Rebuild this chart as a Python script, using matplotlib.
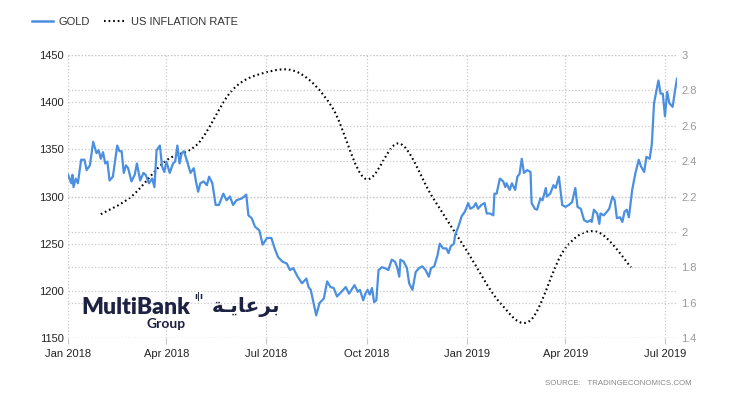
import matplotlib
matplotlib.use('Agg')
import matplotlib.pyplot as plt
import matplotlib.dates as mdates
from matplotlib.path import Path
from matplotlib.patches import PathPatch
from matplotlib.lines import Line2D
from matplotlib.ticker import FormatStrFormatter
import numpy as np
import pandas as pd

# Data
# gold: trading day, as days since 2018-01-01, and price in USD
gold_days = [0, 3, 4, 5, 7, 9, 12, 15, 17, 20,
             23, 26, 28, 30, 32, 34, 36, 38, 41, 45,
             47, 49, 51, 53, 55, 58, 61, 63, 66, 69,
             71, 74, 77, 79, 81, 84, 86, 88, 90, 93,
             96, 98, 100, 102, 104, 106, 109, 112, 115, 117,
             119, 121, 124, 127, 129, 132, 135, 138, 142, 145,
             148, 151, 154, 159, 163, 165, 168, 171, 175, 178,
             182, 186, 189, 192, 196, 200, 203, 206, 210, 214,
             218, 220, 222, 224, 227, 230, 234, 237, 240, 243,
             246, 250, 254, 257, 262, 265,
             267, 270, 272, 274, 276, 278, 280, 282, 284, 287,
             290, 293, 296, 299, 301, 303, 304, 307, 310, 312,
             315, 318, 321, 324, 327, 330, 332, 335, 338, 340,
             343, 346, 348, 350, 353, 354, 357, 360, 363, 366,
             368, 371, 373, 375, 378, 381, 383, 386, 389, 390,
             392, 395, 398, 400, 401, 404, 406, 409, 411, 413,
             415, 417, 420, 423, 424, 427, 429, 432, 434, 437,
             438, 441, 444, 446, 449, 452, 455, 458, 461, 464,
             466, 469, 472, 475, 478, 479, 481, 484, 486, 487,
             490, 493, 495, 498, 500, 502, 505, 507, 509, 511,
             513, 516, 519, 522, 524, 527, 529, 532, 534, 536,
             540, 542, 544, 546, 548, 550, 553, 555, 557]
gold_values = [1323, 1314, 1323, 1310, 1319, 1314, 1339, 1339, 1328, 1333,
               1358, 1346, 1349, 1340, 1347, 1335, 1337, 1317, 1321, 1354,
               1348, 1348, 1325, 1333, 1330, 1316, 1323, 1335, 1317, 1325,
               1323, 1314, 1319, 1310, 1349, 1354, 1332, 1326, 1337, 1325,
               1335, 1337, 1354, 1335, 1346, 1348, 1337, 1325, 1330, 1316,
               1305, 1314, 1316, 1312, 1321, 1314, 1291, 1291, 1303, 1296,
               1300, 1291, 1296, 1298, 1302, 1280, 1277, 1268, 1264, 1249,
               1256, 1256, 1245, 1236, 1231, 1229, 1222, 1224, 1215, 1208,
               1213, 1204, 1201, 1190, 1174, 1187, 1192, 1210, 1204, 1203,
               1194, 1199, 1204, 1197, 1206, 1199,
               1201, 1190, 1197, 1201, 1196, 1203, 1188, 1190, 1222, 1225,
               1224, 1222, 1233, 1231, 1225, 1215, 1233, 1231, 1224, 1208,
               1201, 1220, 1224, 1226, 1222, 1215, 1224, 1226, 1238, 1250,
               1245, 1245, 1240, 1247, 1250, 1259, 1268, 1279, 1284, 1293,
               1287, 1289, 1293, 1287, 1291, 1293, 1282, 1282, 1280, 1303,
               1303, 1319, 1316, 1310, 1314, 1307, 1314, 1307, 1321, 1324,
               1340, 1325, 1328, 1326, 1293, 1287, 1286, 1298, 1296, 1309,
               1300, 1303, 1312, 1309, 1321, 1291, 1289, 1291, 1294, 1309,
               1289, 1287, 1275, 1273, 1275, 1273, 1286, 1282, 1271, 1282,
               1280, 1284, 1287, 1300, 1296, 1277, 1278, 1273, 1284, 1286,
               1278, 1307, 1325, 1339, 1332, 1326, 1342, 1340, 1356, 1399,
               1423, 1409, 1409, 1385, 1411, 1399, 1395, 1411, 1425]

infl_dates = ['2018-01-31', '2018-02-28', '2018-03-31', '2018-04-30', '2018-05-31', '2018-06-30',
              '2018-07-31', '2018-08-31', '2018-09-30', '2018-10-31', '2018-11-30', '2018-12-31',
              '2019-01-31', '2019-02-28', '2019-03-31', '2019-04-30', '2019-05-31']
infl_values = [2.1, 2.2, 2.4, 2.5, 2.8, 2.9, 2.9, 2.7, 2.3, 2.5, 2.2, 1.9, 1.6, 1.5, 1.9, 2.0, 1.8]

quarter_labels = ['Jan 2018', 'Apr 2018', 'Jul 2018', 'Oct 2018', 'Jan 2019', 'Apr 2019', 'Jul 2019']

gold_x = mdates.date2num(pd.Timestamp('2018-01-01') + pd.to_timedelta(gold_days, unit='D'))
infl_x = mdates.date2num(pd.to_datetime(infl_dates))


# smooth path through the monthly points (bezier, drawn by matplotlib)
def spline_path(xs, ys):
    xs = list(xs)
    ys = list(ys)
    px = [xs[0]] + xs + [xs[-1]]
    py = [ys[0]] + ys + [ys[-1]]
    verts = [(xs[0], ys[0])]
    codes = [Path.MOVETO]
    for i in range(1, len(px) - 2):
        c1 = (px[i] + (px[i + 1] - px[i - 1]) / 6, py[i] + (py[i + 1] - py[i - 1]) / 6)
        c2 = (px[i + 1] - (px[i + 2] - px[i]) / 6, py[i + 1] - (py[i + 2] - py[i]) / 6)
        verts += [c1, c2, (px[i + 1], py[i + 1])]
        codes += [Path.CURVE4] * 3
    return Path(verts, codes)


fig = plt.figure(figsize=(7.3, 4), dpi=100)
plt.rcParams['font.family'] = ['Liberation Sans', 'DejaVu Sans']
ax = fig.add_axes([0.0932, 0.155, 0.8342, 0.7075])
ax2 = ax.twinx()
ax.set_zorder(ax2.get_zorder() + 1)
ax.patch.set_visible(False)

grid_kw = dict(color='#c8c8c8', linestyle=':', linewidth=0.9)
dots = (0, (0.8, 1.4))

ax.plot(gold_x, gold_values, color='#4a8fe0', linewidth=1.6, zorder=3)
ax.set_ylim(1150, 1450)
ax.set_yticks(np.arange(1150, 1451, 50))
ax.set_xlim(mdates.date2num(pd.Timestamp('2018-01-01')), mdates.date2num(pd.Timestamp('2019-07-12')))
qticks = mdates.date2num(pd.date_range('2018-01-01', '2019-07-01', freq='QS'))
ax.set_xticks(qticks)
ax.set_xticklabels(quarter_labels)
ax.grid(True, **grid_kw)

patch = PathPatch(spline_path(infl_x, infl_values), fill=False, edgecolor='black',
                  linewidth=1.5, linestyle=dots, capstyle='butt')
ax2.add_patch(patch)
ax2.set_ylim(1.4, 3.0)
ax2.set_yticks(np.arange(1.4, 3.01, 0.2))
ax2.yaxis.set_major_formatter(FormatStrFormatter('%g'))
ax2.grid(True, axis='y', **grid_kw)

for a in (ax, ax2):
    for s in a.spines.values():
        s.set_visible(False)

ax.tick_params(axis='y', length=0, pad=3, labelsize=8, labelcolor='#222222')
ax.tick_params(axis='x', length=4, color='#c8c8c8', pad=4, labelsize=8, labelcolor='#222222')
ax2.tick_params(axis='y', length=0, pad=3, labelsize=8, labelcolor='#999999')

# legend
handles = [Line2D([], [], color='#4a8fe0', linewidth=1.8),
           Line2D([], [], color='black', linewidth=1.5, linestyle=dots, dash_capstyle='butt')]
fig.legend(handles, ['GOLD', 'US INFLATION RATE'], loc='center left', bbox_to_anchor=(0.03, 0.945),
           ncol=2, frameon=False, fontsize=8, handlelength=1.9, handletextpad=0.5,
           columnspacing=1.3, labelcolor='#333333')

# source
fig.text(0.746, 0.042, 'SOURCE:   TRADINGECONOMICS.COM', fontsize=5.7, color='#888888', va='center')

# sponsor logo
fig.text(0.112, 0.232, 'MultiBank', family=['Lato', 'DejaVu Sans'], fontweight='heavy', fontsize=16.5,
         color='#1d2142', va='center')
fig.text(0.266, 0.258, 'ı|ı', family=['DejaVu Sans'], fontweight='bold', fontsize=6,
         color='#1d2142', va='center')
fig.text(0.201, 0.19, 'Group', family=['Lato', 'DejaVu Sans'], fontweight='bold', fontsize=10,
         color='#1d2142', va='center')
fig.text(0.290, 0.232, '\ufe94\u0640\ufef3\ufe8e\ufecb\ufeae\ufe91', family=['DejaVu Sans'],
         fontweight='bold', fontsize=14.5, color='#1d2142', va='center')

fig.savefig('out.png', dpi=100)
